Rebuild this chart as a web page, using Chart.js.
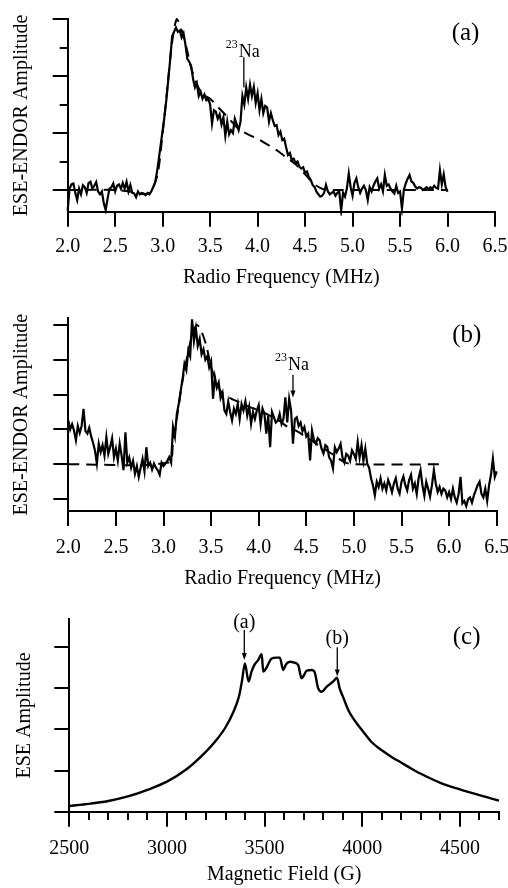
<!DOCTYPE html>
<html>
<head>
<meta charset="utf-8">
<script src="https://cdn.jsdelivr.net/npm/chart.js@4.4.0/dist/chart.umd.min.js"></script>
<style>
  html, body { margin: 0; padding: 0; background: #fff; }
  body { width: 508px; height: 888px; position: relative; overflow: hidden; }
  canvas { position: absolute; left: 0; }
</style>
</head>
<body>
<canvas id="chartA" width="508" height="296" style="top:0"></canvas>
<canvas id="chartB" width="508" height="296" style="top:296px"></canvas>
<canvas id="chartC" width="508" height="296" style="top:592px"></canvas>
<script>
// (a) ESE-ENDOR spectrum, sampled every 0.02 MHz from 2.00 to 6.00
const freqStep = 0.02;
const ampA = [
  -0.70, 0.05, 0.20, 0.23, -0.10, -0.35, 0.05, -0.15, 0.17, 0.10,
  -0.10, 0.25, 0.29, 0.05, 0.15, 0.28, -0.05, -0.15, -0.05, -0.46,
  -0.70, -0.30, 0.05, 0.10, 0.23, -0.05, 0.15, 0.20, 0.05, 0.25,
  0.05, 0.29, -0.05, 0.18, -0.10, -0.12, -0.25, -0.05, -0.15, -0.10,
  -0.12, -0.18, -0.10, -0.15, -0.05, 0.10, 0.25, 0.63, 1.10, 1.60,
  2.10, 2.60, 3.20, 3.90, 4.60, 5.40, 5.55, 5.70, 5.55, 5.60,
  5.35, 5.50, 5.10, 4.60, 4.50, 4.35, 3.90, 3.60, 3.75, 3.30,
  3.45, 3.20, 3.35, 3.15, 3.20, 3.00, 2.33, 2.80, 2.75, 2.50,
  2.65, 2.30, 2.55, 1.90, 2.40, 1.95, 2.10, 2.00, 2.50, 2.30,
  2.10, 2.40, 3.30, 3.00, 3.60, 3.20, 3.70, 3.30, 3.62, 3.05,
  3.40, 2.80, 3.20, 2.70, 2.95, 2.90, 2.40, 2.70, 2.45, 2.25,
  2.28, 1.93, 2.05, 1.75, 1.80, 1.50, 1.23, 1.30, 1.05, 1.10,
  0.95, 1.00, 0.82, 0.75, 0.80, 0.60, 0.65, 0.45, 0.35, 0.18,
  0.10, -0.06, -0.15, -0.23, -0.20, -0.10, 0.18, -0.05, -0.15, -0.10,
  -0.05, -0.20, -0.10, -0.05, -0.72, -0.10, -0.23, 0.05, 0.58, 0.10,
  -0.20, 0.25, 0.41, 0.10, -0.10, 0.05, 0.15, 0.00, -0.35, 0.10,
  -0.05, 0.15, 0.30, 0.41, 0.05, 0.20, -0.05, 0.53, 0.15, 0.20,
  0.05, -0.05, -0.12, 0.15, -0.10, -0.05, -0.65, 0.00, 0.23, 0.40,
  0.53, 0.30, 0.25, 0.12, 0.05, 0.10, 0.08, 0.00, 0.05, 0.10,
  0.02, 0.10, 0.05, 0.15, 0.08, 0.05, 0.70, 0.20, 0.55, 0.10,
  -0.06
];
// (a) simulation (dashed)
const fitFreqA = [2.0, 2.5, 2.7, 2.8, 2.85, 2.9, 2.95, 3.0, 3.05, 3.1, 3.15, 3.2, 3.25, 3.3, 3.35, 3.4, 3.45, 3.5, 3.6, 3.7, 3.8, 3.9, 4.0, 4.1, 4.2, 4.3, 4.4, 4.5, 4.6, 4.7, 4.8, 6.0];
const fitAmpA  = [0, 0, -0.08, -0.15, -0.12, 0.1, 0.6, 2.0, 3.6, 5.2, 6.0, 5.6, 5.0, 4.3, 3.8, 3.45, 3.3, 3.2, 2.85, 2.5, 2.15, 1.95, 1.8, 1.6, 1.4, 1.15, 0.9, 0.55, 0.2, 0.02, 0, 0];

// (b) ESE-ENDOR spectrum, sampled every 0.02 MHz from 2.00 to 6.50
const ampB = [
  1.26, 1.00, 1.15, 0.97, 0.69, 1.10, 0.90, 1.10, 1.59, 0.95,
  0.88, 1.05, 0.80, 0.62, 0.40, 0.02, 0.59, 0.35, 0.55, 0.25,
  0.78, 0.30, 0.50, 0.75, 0.20, 0.45, 0.10, 0.59, 0.25, -0.17,
  0.92, 0.05, 0.20, -0.10, 0.10, -0.27, -0.05, -0.36, -0.10, 0.15,
  -0.20, 0.49, -0.05, 0.05, -0.15, 0.02, -0.10, -0.17, -0.30, 0.05,
  -0.05, 0.02, 0.10, 0.21, 0.05, 1.07, 0.80, 1.45, 1.73, 2.10,
  2.45, 2.88, 2.70, 3.26, 3.10, 4.16, 3.54, 3.90, 3.40, 3.60,
  3.16, 3.30, 3.00, 3.10, 2.78, 2.95, 1.88, 2.50, 2.20, 2.35,
  1.90, 2.05, 1.55, 1.45, 1.80, 1.50, 1.26, 1.60, 1.45, 1.73,
  1.30, 1.73, 1.55, 1.80, 1.40, 1.65, 1.16, 1.50, 1.30, 1.54,
  1.70, 1.16, 1.60, 1.45, 0.88, 1.40, 0.49, 1.50, 1.35, 1.20,
  1.25, 1.45, 1.16, 1.30, 1.92, 1.20, 1.88, 1.55, 0.59, 1.30,
  1.35, 1.10, 1.20, 0.95, 1.07, 0.80, 0.88, 0.11, 0.97, 0.70,
  0.59, 0.75, 0.69, 0.45, 0.31, 0.55, 0.50, 0.20, 0.11, -0.12,
  0.49, 0.35, 0.45, 0.59, 0.20, 0.05, 0.30, 0.25, 0.10, 0.40,
  0.30, 0.15, 0.64, 0.20, 0.55, 0.10, 0.45, 0.02, -0.10, -0.40,
  -0.60, -0.89, -0.50, -0.65, -0.40, -0.70, -0.55, -0.75, -0.45, -0.60,
  -0.80, -0.55, -0.40, -0.70, -0.84, -0.50, -0.35, -0.60, -0.75, -0.45,
  -0.30, -0.70, -0.55, -0.85, -0.40, -0.17, -0.60, -0.90, -0.50, -0.70,
  -0.93, -0.60, -0.17, -0.55, -0.80, -0.65, -0.85, -0.70, -0.75, -0.95,
  -0.80, -1.00, -0.70, -0.95, -1.10, -0.85, -0.36, -1.12, -1.05, -1.20,
  -1.00, -0.95, -1.10, -0.90, -0.75, -0.60, -0.50, -0.85, -0.95, -0.70,
  -1.05, -0.60, -0.30, 0.16, -0.36, -0.20
];
// (b) simulation (dashed)
const fitFreqB = [2.0, 3.05, 3.1, 3.15, 3.2, 3.25, 3.3, 3.35, 3.4, 3.45, 3.5, 3.55, 3.6, 3.7, 3.8, 3.9, 4.0, 4.1, 4.2, 4.3, 4.4, 4.5, 4.6, 4.7, 4.8, 4.9, 5.0, 5.95];
const fitAmpB  = [0, 0.05, 0.6, 1.5, 2.4, 3.1, 3.7, 4.0, 3.8, 3.4, 2.8, 2.4, 2.1, 1.9, 1.78, 1.65, 1.55, 1.42, 1.28, 1.08, 0.95, 0.78, 0.6, 0.42, 0.25, 0.06, 0, 0];

// (c) field-swept ESE spectrum
const fieldG = [2500, 2600, 2700, 2800, 2900, 3000, 3100, 3200, 3250, 3300, 3340, 3370, 3385, 3399, 3418, 3433, 3450, 3467, 3485, 3493, 3510, 3536, 3560, 3578, 3595, 3610, 3630, 3650, 3672, 3689, 3700, 3715, 3740, 3755, 3774, 3792, 3817, 3851, 3870, 3885, 3902, 3930, 3960, 4000, 4050, 4100, 4150, 4200, 4250, 4300, 4400, 4500, 4600, 4700];
const eseAmp = [0.14, 0.19, 0.26, 0.37, 0.53, 0.73, 1.03, 1.46, 1.72, 2.05, 2.42, 2.82, 3.2, 3.6, 3.16, 3.4, 3.58, 3.68, 3.82, 3.4, 3.5, 3.72, 3.74, 3.74, 3.44, 3.58, 3.64, 3.62, 3.56, 3.24, 3.3, 3.42, 3.44, 3.4, 3.0, 2.91, 3.03, 3.16, 3.25, 2.98, 2.78, 2.45, 2.22, 1.97, 1.68, 1.49, 1.33, 1.19, 1.05, 0.92, 0.70, 0.54, 0.40, 0.27];

// ticks
const freqTicks = [2.0, 2.5, 3.0, 3.5, 4.0, 4.5, 5.0, 5.5, 6.0, 6.5];
const ampTicksA = [0, 1, 2, 3, 4, 5, 6];
const ampTicksB = [-1, 0, 1, 2, 3, 4];
const fieldTicks = [2500, 2600, 2700, 2800, 2900, 3000, 3100, 3200, 3300, 3400, 3500, 3600, 3700, 3800, 3900, 4000, 4100, 4200, 4300, 4400, 4500, 4600, 4700];
const fieldLabels = [2500, 3000, 3500, 4000, 4500];
const eseTicks = [0, 1, 2, 3, 4];

Chart.defaults.font.family = "'Liberation Serif', 'Times New Roman', serif";
Chart.defaults.color = '#000';
Chart.defaults.animation = false;

const SERIF = "'Liberation Serif', 'Times New Roman', serif";

function toPoints(xs, ys) {
  return ys.map((y, i) => ({ x: xs[i], y: y }));
}
function sampled(start, values) {
  return values.map((y, i) => ({ x: +(start + i * freqStep).toFixed(2), y: y }));
}

function fixedTicks(values) {
  return function (scale) { scale.ticks = values.map(v => ({ value: v })); };
}

function xAxis(o) {
  return {
    type: 'linear', min: o.min, max: o.max,
    afterBuildTicks: fixedTicks(o.ticks),
    afterFit: s => { s.height = o.height; s.paddingLeft = 0; s.paddingRight = 0; },
    border: { color: '#000', width: 2 },
    grid: {
      drawOnChartArea: false, drawTicks: true, tickLength: 15, color: '#000', lineWidth: 2,
      tickBorderDash: o.minorDash || []
    },
    ticks: { autoSkip: false, maxRotation: 0, padding: o.pad, font: { size: 20 }, callback: o.label },
    title: { display: true, text: o.title, font: { size: 20 }, padding: 0 }
  };
}

function yAxis(o) {
  return {
    type: 'linear', min: o.min, max: o.max,
    afterBuildTicks: fixedTicks(o.ticks),
    afterFit: s => { s.width = o.width; s.paddingTop = 0; s.paddingBottom = 0; },
    border: { color: '#000', width: 2 },
    grid: {
      drawOnChartArea: false, drawTicks: true, tickLength: 15, color: '#000', lineWidth: 2,
      tickBorderDash: o.minorDash || [], tickBorderDashOffset: o.minorOffset || 0
    },
    ticks: { display: false },
    title: { display: true, text: o.title, font: { size: 20 }, padding: { top: o.titlePad, bottom: 0 } }
  };
}

// annotations drawn through the chart scales
function notesPlugin(notes) {
  return {
    id: 'notes',
    afterDraw(chart) {
      const ctx = chart.ctx, xs = chart.scales.x, ys = chart.scales.y;
      ctx.save();
      ctx.fillStyle = '#000';
      ctx.strokeStyle = '#000';
      notes.forEach(n => {
        const px = xs.getPixelForValue(n.x);
        if (n.type === 'text') {
          ctx.font = n.size + 'px ' + SERIF;
          ctx.textAlign = 'center';
          ctx.textBaseline = 'middle';
          ctx.fillText(n.text, px, ys.getPixelForValue(n.y));
        } else if (n.type === 'mark') {
          const y1 = ys.getPixelForValue(n.from), y2 = ys.getPixelForValue(n.to);
          ctx.lineWidth = 1.3;
          ctx.beginPath();
          ctx.moveTo(px, y1);
          ctx.lineTo(px, n.arrow ? y2 - 5 : y2);
          ctx.stroke();
          if (n.arrow) {
            ctx.beginPath();
            ctx.moveTo(px - 2.5, y2 - 7);
            ctx.lineTo(px + 2.5, y2 - 7);
            ctx.lineTo(px, y2);
            ctx.closePath();
            ctx.fill();
          }
        } else if (n.type === 'isotope') {
          const by = ys.getPixelForValue(n.y);
          ctx.textBaseline = 'alphabetic';
          ctx.textAlign = 'left';
          ctx.font = '18px ' + SERIF;
          const left = px - 5;
          ctx.fillText(n.sym, left, by);
          ctx.textAlign = 'right';
          ctx.font = '12px ' + SERIF;
          ctx.fillText(n.mass, left - 1, by - 9);
        }
      });
      ctx.restore();
    }
  };
}

const solid = { borderColor: '#000', borderWidth: 2.2, pointRadius: 0, tension: 0, fill: false, clip: 4 };
const dashed = { borderColor: '#000', borderWidth: 2, pointRadius: 0, tension: 0.3, fill: false, borderDash: [11, 7], clip: 4 };

const commonPlugins = { legend: { display: false }, tooltip: { enabled: false } };
const freqLabel = v => Number(v).toFixed(1);

// (a)
new Chart(document.getElementById('chartA'), {
  type: 'line',
  data: { datasets: [
    Object.assign({ data: toPoints(fitFreqA, fitAmpA) }, dashed),
    Object.assign({ data: sampled(2.0, ampA) }, solid)
  ] },
  options: {
    responsive: false,
    layout: { padding: { top: 19, right: 13, bottom: 6, left: 0 } },
    plugins: commonPlugins,
    scales: {
      x: xAxis({ min: 2.0, max: 6.5, ticks: freqTicks, height: 78.3, pad: 8, label: freqLabel, title: 'Radio Frequency (MHz)' }),
      y: yAxis({ min: -0.76, max: 6, ticks: ampTicksA, width: 67.7, titlePad: 10, title: 'ESE-ENDOR Amplitude',
        minorDash: c => (c.tick && c.tick.value % 2 !== 0) ? [8, 7] : [],
        minorOffset: c => (c.tick && c.tick.value % 2 !== 0) ? 8 : 0 })
    }
  },
  plugins: [notesPlugin([
    { type: 'text', text: '(a)', x: 6.19, y: 5.51, size: 25 },
    { type: 'isotope', mass: '23', sym: 'Na', x: 3.855, y: 4.68 },
    { type: 'mark', x: 3.855, from: 4.66, to: 3.6, arrow: false }
  ])]
});

// (b)
new Chart(document.getElementById('chartB'), {
  type: 'line',
  data: { datasets: [
    Object.assign({ data: toPoints(fitFreqB, fitAmpB) }, dashed),
    Object.assign({ data: sampled(2.0, ampB) }, solid)
  ] },
  options: {
    responsive: false,
    layout: { padding: { top: 22.3, right: 11.3, bottom: 1.7, left: 0 } },
    plugins: commonPlugins,
    scales: {
      x: xAxis({ min: 2.0, max: 6.5, ticks: freqTicks, height: 79.3, pad: 10, label: freqLabel, title: 'Radio Frequency (MHz)' }),
      y: yAxis({ min: -1.34, max: 4.19, ticks: ampTicksB, width: 68.3, titlePad: 10, title: 'ESE-ENDOR Amplitude' })
    }
  },
  plugins: [notesPlugin([
    { type: 'text', text: '(b)', x: 6.185, y: 3.69, size: 25 },
    { type: 'isotope', mass: '23', sym: 'Na', x: 4.36, y: 2.71 },
    { type: 'mark', x: 4.36, from: 2.57, to: 1.92, arrow: true }
  ])]
});

// (c)
new Chart(document.getElementById('chartC'), {
  type: 'line',
  data: { datasets: [
    Object.assign({ data: toPoints(fieldG, eseAmp) }, solid, { borderWidth: 2.4, cubicInterpolationMode: 'monotone' })
  ] },
  options: {
    responsive: false,
    layout: { padding: { top: 27.3, right: 9, bottom: 1, left: 0 } },
    plugins: commonPlugins,
    scales: {
      x: xAxis({ min: 2500, max: 4700, ticks: fieldTicks, height: 75.3, pad: 9.6, title: 'Magnetic Field (G)',
        label: v => fieldLabels.includes(v) ? String(v) : '',
        minorDash: c => (c.tick && !fieldLabels.includes(c.tick.value)) ? [7, 100] : [] }),
      y: yAxis({ min: 0, max: 4.67, ticks: eseTicks, width: 69.3, titlePad: 13, title: 'ESE Amplitude' })
    }
  },
  plugins: [notesPlugin([
    { type: 'text', text: '(c)', x: 4534, y: 4.22, size: 25 },
    { type: 'text', text: '(a)', x: 3396, y: 4.59, size: 20 },
    { type: 'mark', x: 3396, from: 4.41, to: 3.68, arrow: true },
    { type: 'text', text: '(b)', x: 3872, y: 4.19, size: 20 },
    { type: 'mark', x: 3872, from: 3.99, to: 3.28, arrow: true }
  ])]
});
</script>
</body>
</html>
